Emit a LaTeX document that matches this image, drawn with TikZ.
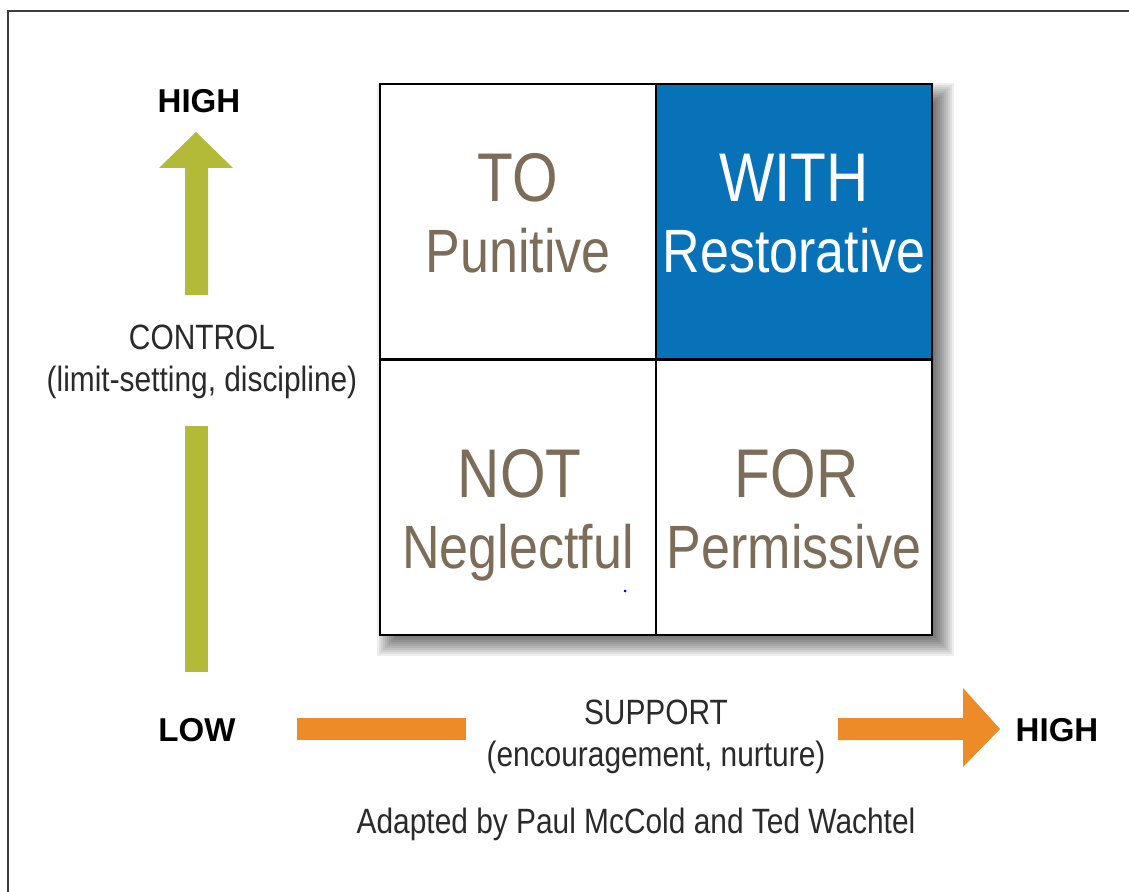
\documentclass[tikz,border=0pt]{standalone}
\usepackage{fontspec}
\setmainfont{Liberation Sans}[FakeStretch=0.85]
\newfontfamily\axisfont{Liberation Sans}
\usetikzlibrary{positioning}
\definecolor{framegray}{HTML}{3C3C3C}
\definecolor{cellblue}{HTML}{0872B9}
\definecolor{cellbrown}{HTML}{7C6C58}
\definecolor{controlgreen}{HTML}{B2BA37}
\definecolor{supportorange}{HTML}{EC8B27}
\definecolor{labelgray}{HTML}{2A2A2A}

\begin{document}
\begin{tikzpicture}
	[x=0.025cm, y=-0.025cm, node distance={6.9cm},
	cell/.style = {draw, fill=white, line width=1.2pt, minimum width=6.9cm, minimum height=6.875cm, inner sep=0pt, outer sep=0pt},
	mode/.style = {anchor=base, inner sep=0pt, text=cellbrown, font=\fontsize{49}{49}\selectfont},
	kind/.style = {anchor=base, inner sep=0pt, text=cellbrown, font=\fontsize{43.5}{43.5}\selectfont},
	axis/.style = {inner sep=0pt, text=black, font=\axisfont\bfseries\fontsize{23.5}{23.5}\selectfont},
	note/.style = {inner sep=0pt, text=labelgray, align=center, font=\fontsize{25}{30}\selectfont}]
	\useasboundingbox (0,0) rectangle (1129,892);
	\fill[white] (0,0) rectangle (1129,892);
	\draw[framegray, line width=1.4pt] (8,892) -- (8,11) -- (1129,11);
	% soft shadow under the grid
	\foreach \s in {-12,-10,...,12}
		\fill[black, opacity=0.065] (389+\s,95+\s) rectangle (942-\s,644-\s);
	\node[cell] (to) at (518,221.5) {};
	\node[cell, fill=cellblue] (with) [right of = to] {};
	\node[cell] (not) [below of = to] {};
	\node[cell] (for) [below of = with] {};
	\node[mode] (tohead) at ([yshift=0.4875cm]to.center) {TO};
	\node[kind] (tosub) at ([yshift=-1.2625cm]to.center) {Punitive};
	\node[mode, text=white] (withhead) at ([yshift=0.4875cm]with.center) {WITH};
	\node[kind, text=white] (withsub) at ([yshift=-1.2625cm]with.center) {Restorative};
	\node[mode] (nothead) at ([xshift=0.04cm]not.center) {NOT};
	\node[kind] (notsub) at ([yshift=-1.7625cm]not.center) {Neglectful};
	\node[mode] (forhead) at ([xshift=0.06cm]for.center) {FOR};
	\node[kind] (forsub) at ([yshift=-1.7625cm]for.center) {Permissive};
	\fill[blue!80!black] (625,591) circle (1.5);
	% control axis
	\node[axis] (hightop) at (199,101) {HIGH};
	\node[note] (control) at (202,362) {CONTROL\\(limit-setting, discipline)};
	\fill[controlgreen] (185,295) -- (185,168) -- (159,168) -- (196,132) -- (233,168) -- (208,168) -- (208,295) -- cycle;
	\fill[controlgreen] (185,426) rectangle (208,672);
	% support axis
	\node[axis] (low) at (197,730) {LOW};
	\node[axis] (highright) at (1057,730) {HIGH};
	\node[note] (support) at (656,737) {SUPPORT\\(encouragement, nurture)};
	\fill[supportorange] (297,718) rectangle (466,740);
	\fill[supportorange] (838,718) -- (963,718) -- (963,688) -- (1000,729) -- (963,767) -- (963,740) -- (838,740) -- cycle;
	\node[note] (credit) at (636,824) {Adapted by Paul McCold and Ted Wachtel};
\end{tikzpicture}
\end{document}
